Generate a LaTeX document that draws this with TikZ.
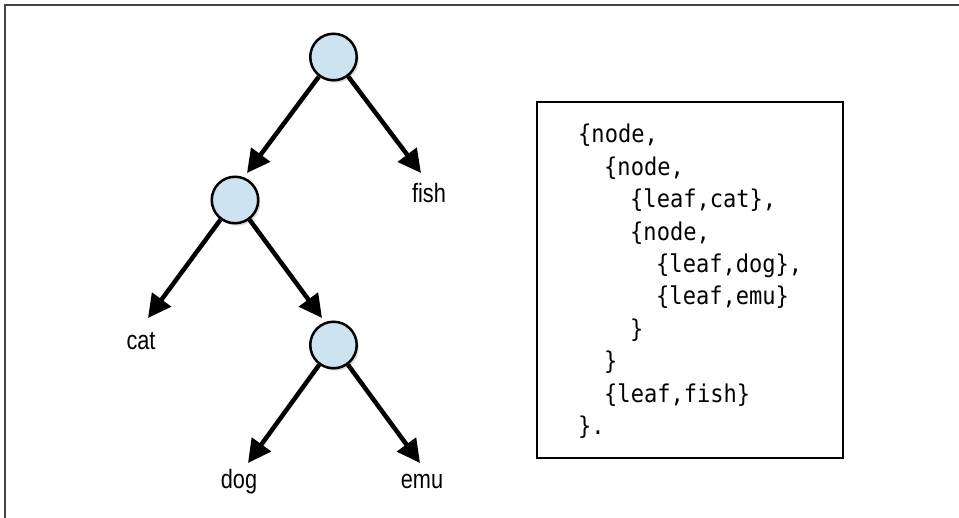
\documentclass[tikz,border=0pt]{standalone}
\usepackage{fontspec}
\setmainfont{Liberation Sans}
\newfontfamily\labelfont[FakeStretch=0.82]{Liberation Sans}
\newfontfamily\codefont[FakeStretch=0.9]{DejaVu Sans Mono}
\usetikzlibrary{arrows.meta,shadows}
\definecolor{nodeblue}{HTML}{CDE3F0}
\definecolor{framegray}{HTML}{444444}
\begin{document}
\begin{tikzpicture}[x=1pt,y=-1pt,
  treenode/.style={circle, draw=black, line width=2.5pt, fill=nodeblue,
    minimum size=46.5pt, inner sep=0pt,
    drop shadow={shadow xshift=2pt, shadow yshift=-2.5pt, opacity=0.3}},
  leaflabel/.style={font=\labelfont\fontsize{26.5}{30}\selectfont, anchor=base, inner sep=0pt},
  arr/.style={line width=4.5pt, -{Triangle[length=23pt,width=23pt]}},
  code/.style={font=\codefont\fontsize{24.5}{30}\selectfont, anchor=base west, inner sep=0pt},
  codebox/.style={draw=black, line width=2.2pt}]
\useasboundingbox (0,0) rectangle (959,518);
\fill[white] (0,0) rectangle (959,518);
% frame lines (top and left)
\draw[framegray, line width=1.8pt] (5,518) -- (5,5) -- (959,5);

% tree nodes
\node[treenode] (root) at (333.5,57) {};
\node[treenode] (n2) at (235,200) {};
\node[treenode] (n3) at (333.5,345) {};

% arrow tips
\coordinate (t12) at (247,173);
\coordinate (tfish) at (421,173);
\coordinate (tcat) at (148,318);
\coordinate (t23) at (322,318);
\coordinate (tdog) at (248,463);
\coordinate (temu) at (420,463);

\draw[arr] (root) -- (t12);
\draw[arr] (root) -- (tfish);
\draw[arr] (n2) -- (tcat);
\draw[arr] (n2) -- (t23);
\draw[arr] (n3) -- (tdog);
\draw[arr] (n3) -- (temu);

% leaf labels
\node[leaflabel] (fish) at (429,203) {fish};
\node[leaflabel] (cat) at (141,350) {cat};
\node[leaflabel] (dog) at (239,489) {dog};
\node[leaflabel] (emu) at (422,489) {emu};

% code box
\draw[codebox] (537,102) rectangle (843,458);
\node[code] (c1) at (578,143) {\{node,};
\node[code] (c2) at (604,175.4) {\{node,};
\node[code] (c3) at (630,207.8) {\{leaf,cat\},};
\node[code] (c4) at (630,240.2) {\{node,};
\node[code] (c5) at (656,272.6) {\{leaf,dog\},};
\node[code] (c6) at (656,305) {\{leaf,emu\}};
\node[code] (c7) at (630,337.4) {\}};
\node[code] (c8) at (604,369.8) {\}};
\node[code] (c9) at (604,402.2) {\{leaf,fish\}};
\node[code] (c10) at (578,434.6) {\}.};
\end{tikzpicture}
\end{document}
